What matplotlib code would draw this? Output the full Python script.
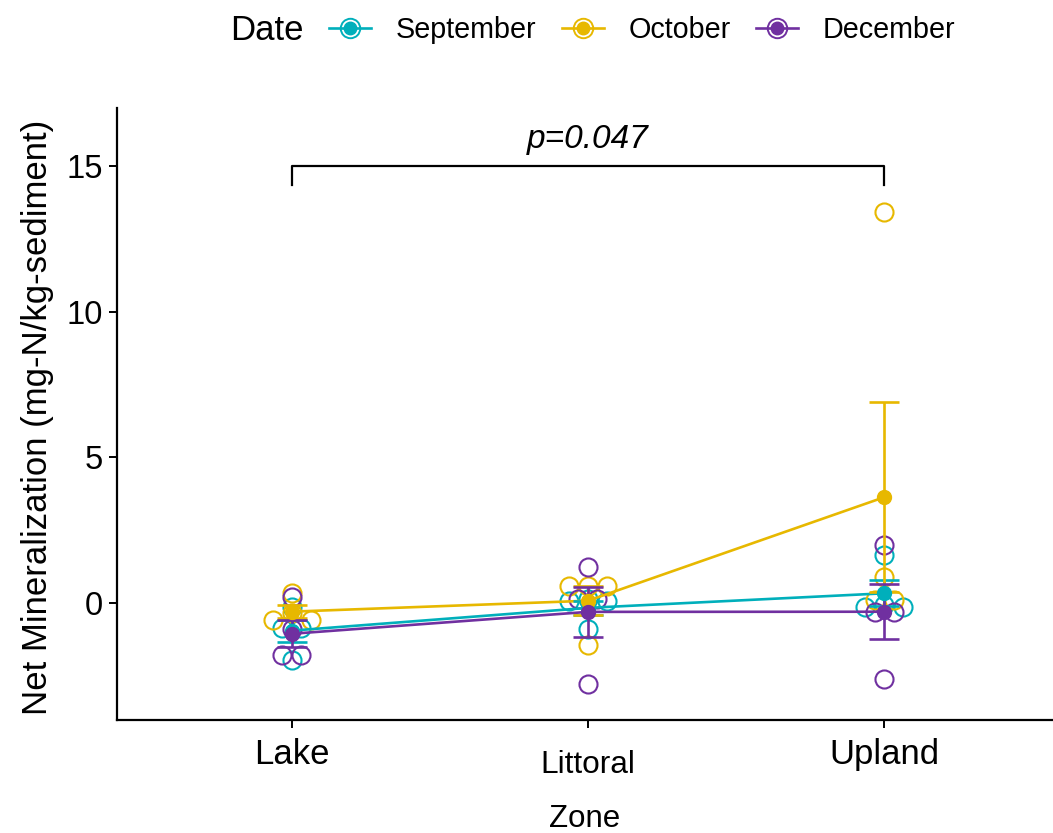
import numpy as np
import matplotlib
matplotlib.use('Agg')
import matplotlib.pyplot as plt
from matplotlib.lines import Line2D

plt.rcParams['font.family'] = ['Liberation Sans', 'DejaVu Sans']

zones = ['Lake', 'Littoral', 'Upland']
months = ['September', 'October', 'December']
colors = ['#00AFBB', '#E7B800', '#7030A0']

# raw replicates per zone (Lake, Littoral, Upland)
sep_vals = [[-1.96, -0.85, -0.85, -0.15], [0.05, 0.12, 0.05, -0.90], [1.65, -0.13, -0.07, -0.13]]
oct_vals = [[0.35, -0.60, -0.35, -0.60], [0.58, 0.58, 0.58, -1.44], [13.42, 0.90, 0.10, 0.10]]
dec_vals = [[0.20, -1.78, -1.78, -0.88], [1.25, 0.15, 0.15, -2.78], [1.99, -0.30, -0.30, -2.60]]
# beeswarm slot of each replicate (left/right of the zone centre)
sep_slots = [[0, -0.5, 0.5, 0], [-1, 0, 1, 0], [0, -1, 0, 1]]
oct_slots = [[0, -1, 0, 1], [-1, 0, 1, 0], [0, 0, -0.5, 0.5]]
dec_slots = [[0, -0.5, 0.5, 0], [0, -0.5, 0.5, 0], [0, -0.5, 0.5, 0]]

p_label = 'p=0.047'

all_vals = [sep_vals, oct_vals, dec_vals]
all_slots = [sep_slots, oct_slots, dec_slots]
xpos = np.arange(1, len(zones) + 1)
spacing = 0.064

fig = plt.figure(figsize=(10.53, 8.33), dpi=100)
ax = fig.add_axes([117 / 1053, 0.1357, 1 - 117 / 1053, 0.7347])

# raw points
for vals, slots, c in zip(all_vals, all_slots, colors):
    for i, (v, s) in enumerate(zip(vals, slots)):
        x = xpos[i] + np.array(s) * spacing
        ax.plot(x, v, 'o', ms=13, mfc='none', mec=c, mew=1.5, ls='none', zorder=2)

# means and standard errors
means = []
ses = []
for vals in all_vals:
    m = [np.mean(v) for v in vals]
    s = [np.std(v, ddof=1) / np.sqrt(len(v)) for v in vals]
    means.append(m)
    ses.append(s)

for m, c in zip(means, colors):
    ax.plot(xpos, m, '-', color=c, lw=1.9, zorder=3)
for m, s, c in zip(means, ses, colors):
    ax.errorbar(xpos, m, yerr=s, fmt='none', ecolor=c, elinewidth=1.9,
                capsize=10.8, capthick=1.9, zorder=4)
for m, c in zip(means, colors):
    ax.plot(xpos, m, 'o', color=c, ms=10, ls='none', zorder=5)

# significance bracket
ax.plot([1, 1, 3, 3], [14.35, 15, 15, 14.35], color='black', lw=1.6, zorder=6)
ax.text(2, 15.62, p_label, style='italic', fontsize=24, ha='center', va='baseline')

ax.set_xlim(0.41, 3.57)
ax.set_ylim(-4.02, 17.0)
ax.set_yticks([0, 5, 10, 15])
ax.set_xticks(xpos, labels=['', '', ''])
ax.tick_params(axis='y', labelsize=23.5, length=6, width=1.4, pad=4)
ax.tick_params(axis='x', length=6, width=1.4)
for sp in ['top', 'right']:
    ax.spines[sp].set_visible(False)
for sp in ['left', 'bottom']:
    ax.spines[sp].set_linewidth(1.6)

# category labels (Littoral is printed smaller and lower in the original)
label_sizes = [25, 22.8, 25]
label_offsets = [-32, -38, -32]
for x, lab, fs, off in zip(xpos, zones, label_sizes, label_offsets):
    ax.annotate(lab, xy=(x, 0), xycoords=('data', 'axes fraction'),
                xytext=(0, off), textcoords='offset points',
                ha='center', va='baseline', fontsize=fs)

fig.text(585 / 1053, 6 / 833, 'Zone', ha='center', va='baseline', fontsize=22.5)
fig.text(38 / 1053, 1 - 417 / 833, 'Net Mineralization (mg-N/kg-sediment)',
         rotation=90, ha='center', va='center', fontsize=25)

# legend across the top
handles = []
for c in colors:
    h1 = Line2D([], [], color=c, lw=1.9, marker='o', ms=9, mec=c, mfc=c)
    h2 = Line2D([], [], ls='none', marker='o', ms=14, mfc='none', mec=c, mew=1.4)
    handles.append((h1, h2))
fig.text(230 / 1053, 1 - 30 / 833, 'Date', ha='left', va='center', fontsize=25)
fig.legend(handles, months, loc='center left', bbox_to_anchor=(329 / 1053, 1 - 30 / 833),
           ncol=3, frameon=False, fontsize=20.7, borderpad=0, borderaxespad=0,
           handlelength=1.46, handletextpad=0.85, columnspacing=0.9)

fig.savefig('out.png', dpi=100)
